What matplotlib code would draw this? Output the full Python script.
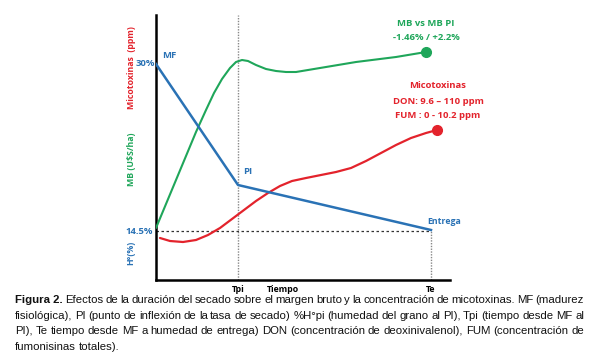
import matplotlib
matplotlib.use("Agg")
import matplotlib.pyplot as plt

# ---- data (x: time units, y: relative level) ----
blue_x = [0, 82, 275]
blue_y = [216, 95, 50]

green_x = [0, 10, 20, 30, 40, 50, 58, 66, 74, 80, 86, 92, 100, 110, 120, 130, 140, 152, 164, 200, 240, 270]
green_y = [52, 76, 100, 124, 148, 170, 187, 201, 212, 218, 220, 219, 215, 211, 209, 208, 208, 210, 212, 218, 223, 228]

red_x = [4, 14, 27, 40, 52, 64, 76, 88, 100, 112, 124, 136, 150, 165, 180, 195, 210, 225, 240, 255, 270, 281]
red_y = [42, 39, 38, 40, 45, 52, 61, 70, 79, 87, 94, 99, 102, 105, 108, 112, 119, 127, 135, 142, 147, 150]

x_tpi, x_te, y_entrega = 82, 275, 49

BLUE = '#2a72b5'
GREEN = '#1fa65a'
RED = '#e3232c'
CF = 'Open Sans'

fig = plt.figure(figsize=(6, 3.62), dpi=100)
ax = fig.add_axes([156/600, (362-280)/362, 294/600, 265/362])
ax.set_xlim(0, 294)
ax.set_ylim(0, 265)
for s in ['top', 'right']:
    ax.spines[s].set_visible(False)
for s in ['left', 'bottom']:
    ax.spines[s].set_linewidth(1.8)
    ax.spines[s].set_color('black')
ax.set_xticks([])
ax.set_yticks([])

ax.axvline(x_tpi, color='#888888', lw=1.0, ls=(0, (1, 1)), zorder=1)
ax.plot([x_te, x_te], [0, y_entrega], color='#888888', lw=1.0, ls=(0, (1, 1)), zorder=1)
ax.plot([0, x_te], [y_entrega, y_entrega], color='#333333', lw=0.9, ls=(0, (2, 2)), zorder=1)

ax.plot(green_x, green_y, color=GREEN, lw=1.5, zorder=3, solid_capstyle='round', solid_joinstyle='round')
ax.plot(red_x, red_y, color=RED, lw=1.6, zorder=3, solid_capstyle='round', solid_joinstyle='round')
ax.plot(blue_x, blue_y, color=BLUE, lw=1.8, zorder=4)
ax.plot(green_x[-1], green_y[-1], 'o', color=GREEN, ms=7, zorder=5)
ax.plot(red_x[-1], red_y[-1], 'o', color=RED, ms=7, zorder=5)

kw = dict(fontfamily=CF, fontweight='bold', clip_on=False)
ax.text(-25, 212, 'Micotoxinas  (ppm)', color=RED, rotation=90, ha='center', va='center', fontsize=6.3, **kw)
ax.text(-25, 121, 'MB (U$S/ha)', color=GREEN, rotation=90, ha='center', va='center', fontsize=6.3, **kw)
ax.text(-25, 27, 'H°(%)', color=BLUE, rotation=90, ha='center', va='center', fontsize=6.3, **kw)
ax.text(-1, 216, '30%', color=BLUE, ha='right', va='center', fontsize=6.8, **kw)
ax.text(-3, 49, '14.5%', color=BLUE, ha='right', va='center', fontsize=6.8, **kw)
ax.text(6, 225, 'MF', color=BLUE, ha='left', va='center', fontsize=6.8, **kw)
ax.text(87, 108, 'PI', color=BLUE, ha='left', va='center', fontsize=6.8, **kw)
ax.text(271, 58, 'Entrega', color=BLUE, ha='left', va='center', fontsize=6.3, **kw)
ax.text(270, 256, 'MB vs MB PI', color=GREEN, ha='center', va='center', fontsize=6.8, **kw)
ax.text(270, 243, '-1.46% / +2.2%', color=GREEN, ha='center', va='center', fontsize=6.8, **kw)
ax.text(282, 194, 'Micotoxinas', color=RED, ha='center', va='center', fontsize=6.8, **kw)
ax.text(282, 179, 'DON: 9.6 – 110 ppm', color=RED, ha='center', va='center', fontsize=6.8, **kw)
ax.text(282, 165, 'FUM : 0 - 10.2 ppm', color=RED, ha='center', va='center', fontsize=6.8, **kw)
ax.text(x_tpi, -10, 'Tpi', color='black', ha='center', va='center', fontsize=6.3, **kw)
ax.text(127, -10, 'Tiempo', color='black', ha='center', va='center', fontsize=6.3, **kw)
ax.text(x_te, -10, 'Te', color='black', ha='center', va='center', fontsize=6.3, **kw)

# ---- caption (justified) ----
cap_lines = [
    "Efectos de la duración del secado sobre el margen bruto y la concentración de micotoxinas. MF (madurez",
    "fisiológica), PI (punto de inflexión de la tasa de secado) %H°pi (humedad del grano al PI), Tpi (tiempo desde MF al",
    "PI), Te tiempo desde MF a humedad de entrega) DON (concentración de deoxinivalenol), FUM (concentración de",
    "fumonisinas totales).",
]
cap_y = [300, 316, 331, 347]
x_left, x_right = 15, 584
fs = 8.2
renderer = fig.canvas.get_renderer()

def width_px(t, bold=False):
    tt = fig.text(0, 0, t, fontsize=fs, fontfamily='Liberation Sans', fontweight='bold' if bold else 'normal')
    w = tt.get_window_extent(renderer).width
    tt.remove()
    return w

for i, (line, yp) in enumerate(zip(cap_lines, cap_y)):
    words = line.split(' ')
    items = [(w, False) for w in words]
    if i == 0:
        items = [('Figura 2.', True)] + items
    widths = [width_px(w, b) for w, b in items]
    nat_space = width_px('a a') - width_px('aa')
    total = sum(widths)
    if i < len(cap_lines) - 1:
        gap = (x_right - x_left - total) / (len(items) - 1)
    else:
        gap = nat_space
    x = x_left
    for (w, b), wd in zip(items, widths):
        fig.text(x / 600, 1 - yp / 362, w, fontsize=fs, fontfamily='Liberation Sans',
                 fontweight='bold' if b else 'normal', ha='left', va='center', color='#111111')
        x += wd + gap

fig.savefig('out.png', dpi=100)
